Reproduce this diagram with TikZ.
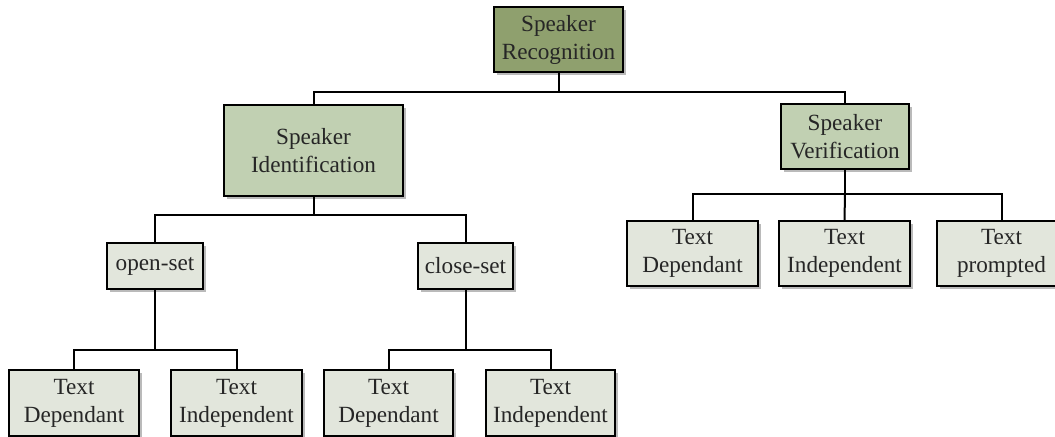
\documentclass[tikz,border=0pt]{standalone}
\usepackage{fontspec}
\setmainfont{Liberation Serif}
\usetikzlibrary{shadows}
\definecolor{topfill}{RGB}{143,160,110}
\definecolor{midfill}{RGB}{193,208,178}
\definecolor{leaffill}{RGB}{226,230,220}
\tikzset{
  box/.style={draw=black, line width=0.9pt, rectangle, align=center, inner sep=1pt,
    font=\fontsize{11.6}{14}\selectfont, text=black!85,
    drop shadow={shadow xshift=1.6pt, shadow yshift=-1.6pt, fill=black!45, opacity=0.6}},
  topbox/.style={box, fill=topfill},
  midbox/.style={box, fill=midfill},
  leafbox/.style={box, fill=leaffill},
  conn/.style={draw=black, line width=1pt}
}
\begin{document}
\begin{tikzpicture}[x=0.5pt,y=-0.5pt]
\useasboundingbox (0,0) rectangle (1055,437);
\node[topbox, minimum width=64.5pt, minimum height=32.5pt] (SR) at (558.5,39.5) {Speaker\\Recognition};
\node[midbox, minimum width=89.5pt, minimum height=45.5pt] (SI) at (313.5,150.5) {Speaker\\Identification};
\node[midbox, minimum width=64pt, minimum height=32.5pt] (SV) at (845,136.5) {Speaker\\Verification};
\node[leafbox, minimum width=48pt, minimum height=23pt] (OS) at (155,266) {open-set};
\node[leafbox, minimum width=47.5pt, minimum height=23pt] (CS) at (465.5,266) {close-set};
\node[leafbox, minimum width=65pt, minimum height=33pt] (L1) at (74,403) {Text\\Dependant};
\node[leafbox, minimum width=65.5pt, minimum height=33pt] (L2) at (236.5,403) {Text\\Independent};
\node[leafbox, minimum width=64.5pt, minimum height=33pt] (L3) at (388.5,403) {Text\\Dependant};
\node[leafbox, minimum width=64.5pt, minimum height=33pt] (L4) at (550.5,403) {Text\\Independent};
\node[leafbox, minimum width=65.5pt, minimum height=32.5pt] (R1) at (692.5,253.5) {Text\\Dependant};
\node[leafbox, minimum width=65.5pt, minimum height=32.5pt] (R2) at (844.5,253.5) {Text\\Independent};
\node[leafbox, minimum width=64.5pt, minimum height=32.5pt] (R3) at (1001.5,253.5) {Text\\prompted};
\coordinate (j0) at (558.5,92);
\coordinate (j1) at (313.5,215);
\coordinate (j2) at (155,350);
\coordinate (j3) at (465.5,350);
\coordinate (j4) at (845,194);
\draw[conn] (SR.south) -- (j0);
\draw[conn] (SI.north) |- (j0) -| (SV.north);
\draw[conn] (SI.south) -- (j1);
\draw[conn] (OS.north) |- (j1) -| (CS.north);
\draw[conn] (OS.south) -- (j2);
\draw[conn] (L1.north) |- (j2) -| (L2.north);
\draw[conn] (CS.south) -- (j3);
\draw[conn] (L3.north) |- (j3) -| (L4.north);
\draw[conn] (SV.south) -- (j4);
\draw[conn] (R1.north) |- (j4) -| (R3.north);
\draw[conn] (R2.north) -- (j4);
\end{tikzpicture}
\end{document}
